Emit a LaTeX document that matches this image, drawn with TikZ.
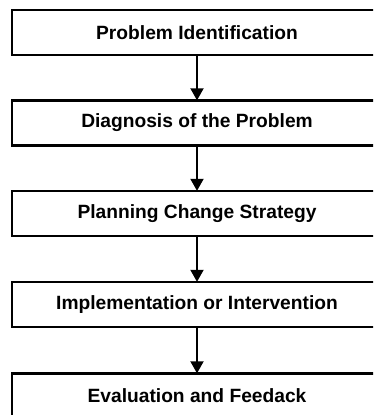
\documentclass[tikz,border=0pt]{standalone}
\usepackage{fontspec}
\setmainfont{Liberation Sans}
\usetikzlibrary{arrows.meta}
\begin{document}
\begin{tikzpicture}[x=1pt,y=-1pt,
  stagebox/.style={draw=black, line width=2.4pt, fill=white,
    minimum width=370pt, minimum height=45pt, inner sep=0pt,
    font=\fontsize{19.2}{21}\selectfont\bfseries},
  flowarrow/.style={draw=black, line width=1.9pt,
    -{Triangle[width=13pt,length=12pt]}, shorten >=-1pt}]
\useasboundingbox (0,0) rectangle (373,415);
\clip (0,0) rectangle (373,415);
\fill[white] (0,0) rectangle (373,415);

\node[stagebox] (s1) at (197,32.5) {Problem Identification};
\node[stagebox] (s2) at (197,123) {Diagnosis of the Problem};
\node[stagebox] (s3) at (197,213.5) {Planning Change Strategy};
\node[stagebox] (s4) at (197,304.5) {Implementation or Intervention};
\node[stagebox] (s5) at (197,396) {Evaluation and Feedack};

\draw[flowarrow] (s1.south) -- (s2.north);
\draw[flowarrow] (s2.south) -- (s3.north);
\draw[flowarrow] (s3.south) -- (s4.north);
\draw[flowarrow] (s4.south) -- (s5.north);
\end{tikzpicture}
\end{document}
